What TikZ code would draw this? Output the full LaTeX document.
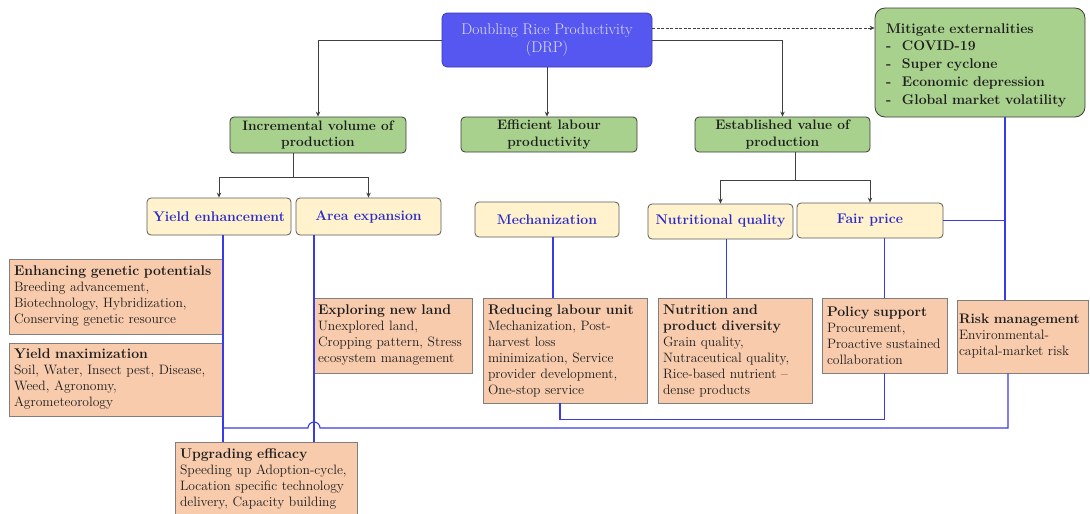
\documentclass[tikz,border=0pt]{standalone}
\usetikzlibrary{arrows.meta,calc}
\definecolor{drpfill}{HTML}{5656F0}
\definecolor{drpborder}{HTML}{3A3AB8}
\definecolor{drptext}{HTML}{E2E2F0}
\definecolor{gfill}{HTML}{A9D18E}
\definecolor{gborder}{HTML}{3C3C3C}
\definecolor{yfill}{HTML}{FFF2CC}
\definecolor{yborder}{HTML}{5A5A5A}
\definecolor{ytext}{HTML}{2B2BC8}
\definecolor{sfill}{HTML}{F8CBAD}
\definecolor{sborder}{HTML}{7F7F7F}
\definecolor{tdark}{HTML}{1E1E1E}
\definecolor{lgray}{HTML}{404040}
\definecolor{lblue}{HTML}{3A3AE6}
\begin{document}
\begin{tikzpicture}[x=1pt,y=-1pt,
  drpbox/.style={draw=drpborder,fill=drpfill,line width=0.8pt,rounded corners=5pt,align=center,text=drptext,font=\fontsize{15.5}{18}\selectfont,inner sep=1pt},
  mitbox/.style={draw=gborder,fill=gfill,line width=0.8pt,rounded corners=10pt,align=left,text=tdark,font=\bfseries\fontsize{14}{17.8}\selectfont,inner xsep=11pt,inner ysep=2pt},
  grnbox/.style={draw=gborder,fill=gfill,line width=0.8pt,rounded corners=4pt,align=center,text=tdark,font=\bfseries\fontsize{13.7}{16.5}\selectfont,inner sep=1pt},
  ylwbox/.style={draw=yborder,fill=yfill,line width=0.8pt,rounded corners=4pt,align=center,text=ytext,font=\bfseries\fontsize{14}{16}\selectfont,inner sep=1pt},
  slmbox/.style={draw=sborder,fill=sfill,line width=0.8pt,align=left,text=tdark,font=\fontsize{13.6}{16}\selectfont,inner xsep=5pt,inner ysep=2pt},
  arr/.style={draw=lgray,line width=1pt,-{Stealth[length=5pt,width=4.5pt]}},
  plain/.style={draw=lgray,line width=1pt},
  dasharr/.style={draw=lgray,line width=1pt,dash pattern=on 3pt off 1.5pt,-{Stealth[length=5pt,width=4.5pt]}},
  bl/.style={draw=lblue,line width=1.1pt}
]
\useasboundingbox (0,0) rectangle (1090,514);
\clip (0,0) rectangle (1090,514);
\newcommand{\tl}[1]{{\bfseries\fontsize{14}{16}\selectfont #1}}

% top level
\node[drpbox,minimum width=210,minimum height=54] (drp) at (547,40) {Doubling Rice Productivity\\(DRP)};
\node[mitbox,text width=188,minimum height=109] (mit) at (980,62.5)
  {\rule{0pt}{15pt}Mitigate externalities\\\makebox[16pt][l]{-}COVID-19\\\makebox[16pt][l]{-}Super cyclone\\\makebox[16pt][l]{-}Economic depression\\\makebox[16pt][l]{-}Global market volatility};

% second level
\node[grnbox,minimum width=176,minimum height=36] (inc) at (318,135) {Incremental volume of\\production};
\node[grnbox,minimum width=176,minimum height=35] (eff) at (549,134.5) {Efficient labour\\productivity};
\node[grnbox,minimum width=175,minimum height=35] (est) at (782.5,134.5) {Established value of\\production};

% third level
\node[ylwbox,minimum width=144,minimum height=37] (ye) at (219,216.5) {Yield enhancement};
\node[ylwbox,minimum width=145,minimum height=37] (ae) at (368.5,216.5) {Area expansion};
\node[ylwbox,minimum width=144,minimum height=35] (mech) at (547,219.5) {Mechanization};
\node[ylwbox,minimum width=145,minimum height=35] (nq) at (720.5,221.5) {Nutritional quality};
\node[ylwbox,minimum width=146,minimum height=35] (fp) at (870,220.5) {Fair price};

% detail boxes
\node[slmbox,text width=204,minimum height=75] (enh) at (116,296.5)
  {\tl{Enhancing genetic potentials}\\Breeding advancement,\\Biotechnology, Hybridization,\\Conserving genetic resource};
\node[slmbox,text width=203,minimum height=73] (ymx) at (115.5,379.5)
  {\tl{Yield maximization}\\Soil, Water, Insect pest, Disease,\\Weed, Agronomy,\\Agrometeorology};
\node[slmbox,text width=149,minimum height=75] (exp) at (392.5,335.5)
  {\tl{Exploring new land}\\Unexplored land,\\Cropping pattern, Stress\\ecosystem management};
\node[slmbox,text width=154,minimum height=105] (red) at (565,350.5)
  {\tl{Reducing labour unit}\\Mechanization, Post-\\harvest loss\\minimization, Service\\provider development,\\One-stop service};
\node[slmbox,text width=144,minimum height=105] (nut) at (735,350.5)
  {\tl{Nutrition and}\\\tl{product diversity}\\Grain quality,\\Nutraceutical quality,\\Rice-based nutrient --\\dense products};
\node[slmbox,text width=115,minimum height=75] (pol) at (884.5,335.5)
  {\tl{Policy support}\\Procurement,\\Proactive sustained\\collaboration};
\node[slmbox,text width=127,inner xsep=2pt,minimum height=73] (rsk) at (1022.5,336.5)
  {\mbox{\bfseries\fontsize{13.8}{17}\selectfont Risk management}\\Environmental-\\capital-market risk};
\node[slmbox,text width=172,minimum height=74,anchor=north] (upg) at (266,442)
  {\tl{Upgrading efficacy}\\Speeding up Adoption-cycle,\\Location specific technology\\delivery, Capacity building};

% black connectors
\draw[arr] (drp.west) -| (inc.north);
\draw[arr] (drp.south) -- (drp.south |- eff.north);
\draw[arr] (drp.east) -| (est.north);
\coordinate (d1) at ([yshift=12pt]drp.east);
\draw[dasharr] (d1) -- (d1 -| mit.west);

\coordinate (ij) at (293,177);
\draw[plain] (inc.south -| ij) -- (ij);
\draw[arr] (ij) -| (ye.north);
\draw[arr] (ij) -| (ae.north);

\coordinate (ej) at (795,180);
\draw[plain] (est.south -| ej) -- (ej);
\draw[arr] (ej) -| (nq.north);
\draw[arr] (ej) -| (fp.north);

% blue connectors
\coordinate (bx) at (1005,218);
\draw[bl] (mit.south -| bx) -- (bx |- rsk.north);
\draw[bl] (fp.east) -- (fp.east -| bx);
\draw[bl] ([xshift=6pt]mech.south) -- ([xshift=6pt]mech.south |- red.north);
\draw[bl] ([xshift=6pt]nq.south) -- ([xshift=6pt]nq.south |- nut.north);
\draw[bl] (pol.north |- fp.south) -- (pol.north);

\coordinate (ry) at (223,0);
\coordinate (ax) at (314,0);
\draw[bl] (ye.south -| ry) -- (ry |- upg.north);
\draw[bl] (ae.south -| ax) -- (ax |- upg.north);

\coordinate (r1) at ([xshift=-5pt]red.south);
\draw[bl] (r1) -- ++(0,16) -| (pol.south);

\coordinate (h0) at (223,428);
\coordinate (rk) at (1008,428);
\draw[bl] (h0) -- (308,428) arc[start angle=180,end angle=0,radius=6pt] -- (rk) -- (rk |- rsk.south);
\end{tikzpicture}
\end{document}
